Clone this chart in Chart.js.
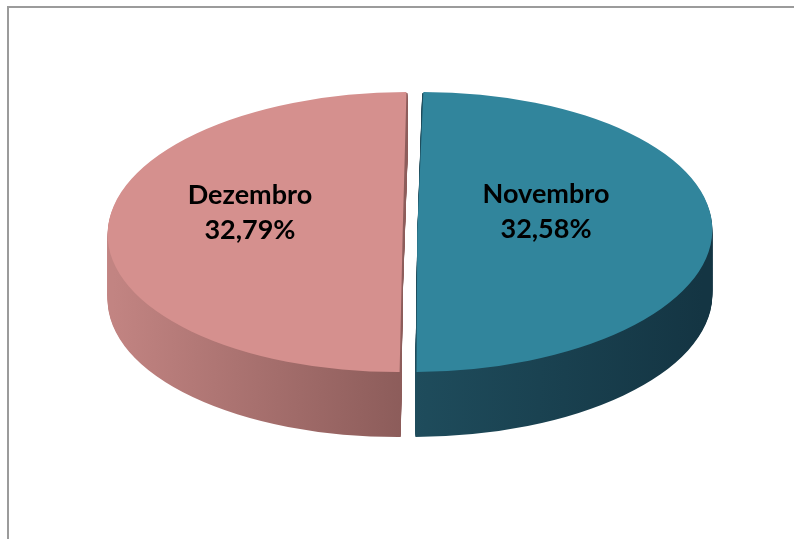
<!DOCTYPE html>
<html>
<head>
<meta charset="utf-8">
<title>Novembro x Dezembro</title>
<script src="https://cdn.jsdelivr.net/npm/chart.js@4.4.1/dist/chart.umd.min.js"></script>
<style>
    html, body { margin: 0; padding: 0; background: #fff; }
    #chartContainer { position: relative; width: 794px; height: 539px; }
</style>
</head>
<body>
<div id="chartContainer"><canvas id="pieChart"></canvas></div>
<script>
// data
const months = ['Novembro', 'Dezembro'];
const shares = [32.58, 32.79];

// look of the 3D pie (screen pixels)
const topColors = ['#31859C', '#D5908E'];
const sideColors = [
    ['#20505f', '#1f4d5d', '#143543'],   // Novembro side, left -> right
    ['#c28482', '#8c5c5a', '#8c5c5a'],   // Dezembro side
];
const CX = 410, CY = 232;      // centre of the top ellipse
const RX = 295, RY = 140;      // radii of the top ellipse
const DEPTH = 65;              // thickness of the pie
const SHEAR = -0.035;          // slight perspective lean
const LABEL_R = 0.477;
const LABEL_SHIFT = { x: -12, y: -20 };

function formatShare(v) {
    return v.toFixed(2).replace('.', ',') + '%';
}

// geometry of the drawn arcs (offset pulls slices out, like ArcElement.draw)
function arcGeom(arc) {
    const off = (arc.options.offset || 0) / 4;
    const fix = 1 - Math.sin(Math.min(Math.PI, arc.circumference || 0));
    const mid = (arc.startAngle + arc.endAngle) / 2;
    return {
        cx: arc.x + Math.cos(mid) * off,
        cy: arc.y + Math.sin(mid) * off,
        r: arc.outerRadius + off * fix,
        mid: mid,
        off: off,
    };
}

function pieTransform(chart) {
    const arc = chart.getDatasetMeta(0).data[0];
    const g = arcGeom(arc);
    return { x: arc.x, y: arc.y, r: g.r, sx: RX / g.r, sy: RY / g.r };
}

function toScreen(t, ux, uy) {
    const xc = (ux - t.x) * t.sx;
    const yc = (uy - t.y) * t.sy;
    return { x: CX + xc + SHEAR * yc, y: CY + yc };
}

// squash the round pie into an ellipse and extrude it downwards
const pie3d = {
    id: 'pie3d',
    beforeDatasetsDraw(chart) {
        const ctx = chart.ctx;
        const arcs = chart.getDatasetMeta(0).data;
        const t = pieTransform(chart);

        ctx.save();
        ctx.translate(CX, CY);
        ctx.transform(1, 0, SHEAR, 1, 0, 0);
        ctx.scale(t.sx, t.sy);
        ctx.translate(-t.x, -t.y);

        arcs.forEach((arc, i) => {
            const g = arcGeom(arc);
            const grad = ctx.createLinearGradient(t.x - t.r, 0, t.x + t.r, 0);
            sideColors[i].forEach((c, k, arr) => grad.addColorStop(k / (arr.length - 1), c));
            ctx.fillStyle = grad;
            for (let d = DEPTH; d > 0; d--) {
                const ox = -SHEAR * d / t.sx;
                const oy = d / t.sy;
                ctx.beginPath();
                ctx.moveTo(g.cx + ox, g.cy + oy);
                ctx.arc(g.cx + ox, g.cy + oy, g.r, arc.startAngle, arc.endAngle);
                ctx.closePath();
                ctx.fill();
            }
        });
        // transform stays on while Chart.js draws the top faces
    },
    afterDatasetsDraw(chart) {
        chart.ctx.restore();
    },
};

const sliceLabels = {
    id: 'sliceLabels',
    afterDraw(chart) {
        const ctx = chart.ctx;
        const arcs = chart.getDatasetMeta(0).data;
        const t = pieTransform(chart);
        ctx.save();
        ctx.fillStyle = '#000';
        ctx.font = 'bold 27px Lato';
        ctx.textAlign = 'center';
        ctx.textBaseline = 'middle';
        arcs.forEach((arc, i) => {
            const g = arcGeom(arc);
            const rr = g.off + LABEL_R * g.r;
            const p = toScreen(t, arc.x + Math.cos(g.mid) * rr, arc.y + Math.sin(g.mid) * rr);
            const x = p.x + LABEL_SHIFT.x;
            const y = p.y + LABEL_SHIFT.y;
            ctx.fillText(months[i], x, y - 17);
            ctx.fillText(formatShare(shares[i]), x, y + 18);
        });
        ctx.restore();
    },
};

const chartFrame = {
    id: 'chartFrame',
    beforeDraw(chart) {
        const ctx = chart.ctx;
        ctx.save();
        ctx.strokeStyle = '#9b9b9b';
        ctx.lineWidth = 2;
        ctx.beginPath();
        ctx.moveTo(8, chart.height);
        ctx.lineTo(8, 7);
        ctx.lineTo(chart.width, 7);
        ctx.stroke();
        ctx.restore();
    },
};

new Chart(document.getElementById('pieChart').getContext('2d'), {
    type: 'pie',
    data: {
        labels: months,
        datasets: [{
            data: shares,
            backgroundColor: topColors,
            borderWidth: 0,
            offset: 26,
            hoverOffset: 0,
            clip: false,
        }],
    },
    options: {
        responsive: true,
        maintainAspectRatio: false,
        animation: false,
        events: [],
        plugins: {
            legend: { display: false },
            tooltip: { enabled: false },
        },
    },
    plugins: [chartFrame, pie3d, sliceLabels],
});
</script>
</body>
</html>
